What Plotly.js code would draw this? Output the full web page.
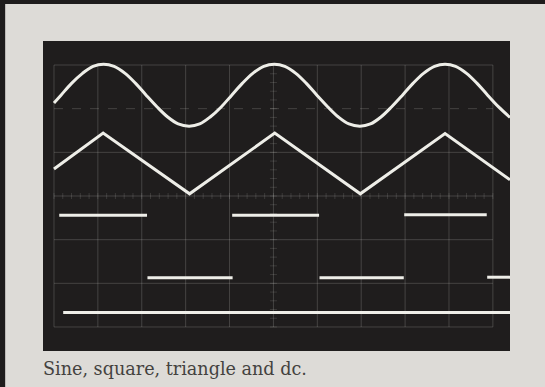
<!DOCTYPE html>
<html>
<head>
<meta charset="utf-8">
<script src="https://cdn.plot.ly/plotly-3.0.1.min.js"></script>
<style>
  html, body { margin: 0; padding: 0; background: #dddbd7; }
  #scope { width: 545px; height: 387px; }
</style>
</head>
<body>
<div id="scope"></div>
<script>
// screen units are graticule divisions, y = 0 on the centre line
var sineX = [0, 0.16, 0.40, 0.65, 0.89, 1.13, 1.37, 1.62, 1.86, 2.10, 2.35, 2.59, 2.83,
             3.08, 3.32, 3.56, 3.81, 4.05, 4.29, 4.53, 4.78, 5.02, 5.26, 5.51, 5.75,
             5.99, 6.24, 6.48, 6.72, 6.97, 7.21, 7.45, 7.69, 7.94, 8.18, 8.42, 8.67,
             8.91, 9.15, 9.40, 9.64, 9.88, 10.13, 10.39];
var sineY = [2.13, 2.31, 2.58, 2.81, 2.97, 3.02, 2.97, 2.81, 2.58, 2.31, 2.04, 1.81, 1.65,
             1.60, 1.65, 1.81, 2.04, 2.31, 2.58, 2.81, 2.97, 3.02, 2.97, 2.81, 2.58,
             2.31, 2.04, 1.81, 1.65, 1.60, 1.65, 1.81, 2.04, 2.31, 2.58, 2.81, 2.97,
             3.02, 2.97, 2.81, 2.58, 2.31, 2.04, 1.80];

var triX = [0, 1.12, 3.09, 5.03, 6.98, 8.91, 10.39];
var triY = [0.62, 1.44, 0.05, 1.44, 0.05, 1.43, 0.37];

// square wave: only the flat parts show, edges are too fast to see
var sqX = [0.12, 2.12, null, 2.13, 4.07, null, 4.06, 6.04, null,
           6.05, 7.97, null, 7.98, 9.86, null, 9.87, 10.39];
var sqY = [-0.44, -0.44, null, -1.87, -1.87, null, -0.44, -0.44, null,
           -1.87, -1.87, null, -0.43, -0.43, null, -1.86, -1.86];

var dcX = [0.21, 10.39];
var dcY = [-2.67, -2.67];

var caption = 'Sine, square, triangle and dc.';

var beam = {color: '#eeeee8', width: 3};

var data = [
    {type: 'scatter', mode: 'lines', x: sineX, y: sineY, name: 'sine',
     line: {color: beam.color, width: beam.width, shape: 'spline', smoothing: 1}},
    {type: 'scatter', mode: 'lines', x: triX, y: triY, name: 'triangle',
     line: {color: beam.color, width: beam.width}},
    {type: 'scatter', mode: 'lines', x: sqX, y: sqY, name: 'square',
     line: {color: beam.color, width: beam.width}, connectgaps: false},
    {type: 'scatter', mode: 'lines', x: dcX, y: dcY, name: 'dc',
     line: {color: beam.color, width: beam.width}}
];

// graticule
var grid = 'rgba(205,205,200,0.22)';
var tick = 'rgba(205,205,200,0.16)';
var shapes = [];
for (var i = 0; i <= 10; i++) {
    shapes.push({type: 'line', xref: 'x', yref: 'y', x0: i, x1: i, y0: -3, y1: 3,
                 line: {color: grid, width: 1}, layer: 'below'});
}
for (var j = -3; j <= 3; j++) {
    shapes.push({type: 'line', xref: 'x', yref: 'y', x0: 0, x1: 10, y0: j, y1: j,
                 line: {color: grid, width: 1, dash: j == 2 ? 'dash' : 'solid'}, layer: 'below'});
}
// small ticks on the centre lines
for (var k = 0; k <= 50; k++) {
    shapes.push({type: 'line', xref: 'x', yref: 'y', x0: k / 5, x1: k / 5, y0: -0.07, y1: 0.07,
                 line: {color: tick, width: 1}, layer: 'below'});
}
for (var m = -15; m <= 15; m++) {
    shapes.push({type: 'line', xref: 'x', yref: 'y', x0: 4.92, x1: 5.08, y0: m / 5, y1: m / 5,
                 line: {color: tick, width: 1}, layer: 'below'});
}
// dark edges of the photo
shapes.push({type: 'rect', xref: 'paper', yref: 'paper', x0: -0.2, x1: 1.2, y0: 1.119, y1: 1.2,
             fillcolor: '#1e1c1c', line: {width: 0}});
shapes.push({type: 'rect', xref: 'paper', yref: 'paper', x0: -0.2, x1: -0.081, y0: -0.2, y1: 1.2,
             fillcolor: '#1e1c1c', line: {width: 0}});

var layout = {
    width: 545,
    height: 387,
    margin: {l: 43, r: 35, t: 41, b: 36},
    paper_bgcolor: '#dddbd7',
    plot_bgcolor: '#1f1d1d',
    showlegend: false,
    xaxis: {range: [-0.25, 10.39], showgrid: false, zeroline: false,
            showticklabels: false, ticks: '', fixedrange: true},
    yaxis: {range: [-3.55, 3.55], showgrid: false, zeroline: false,
            showticklabels: false, ticks: '', fixedrange: true},
    shapes: shapes,
    annotations: [{
        text: caption, xref: 'paper', yref: 'paper',
        x: -0.004, y: -0.098, xanchor: 'left', yanchor: 'bottom',
        showarrow: false,
        font: {family: 'DejaVu Serif', size: 17.6, color: '#44423f'}
    }]
};

Plotly.newPlot('scope', data, layout, {displayModeBar: false, staticPlot: true});
</script>
</body>
</html>
